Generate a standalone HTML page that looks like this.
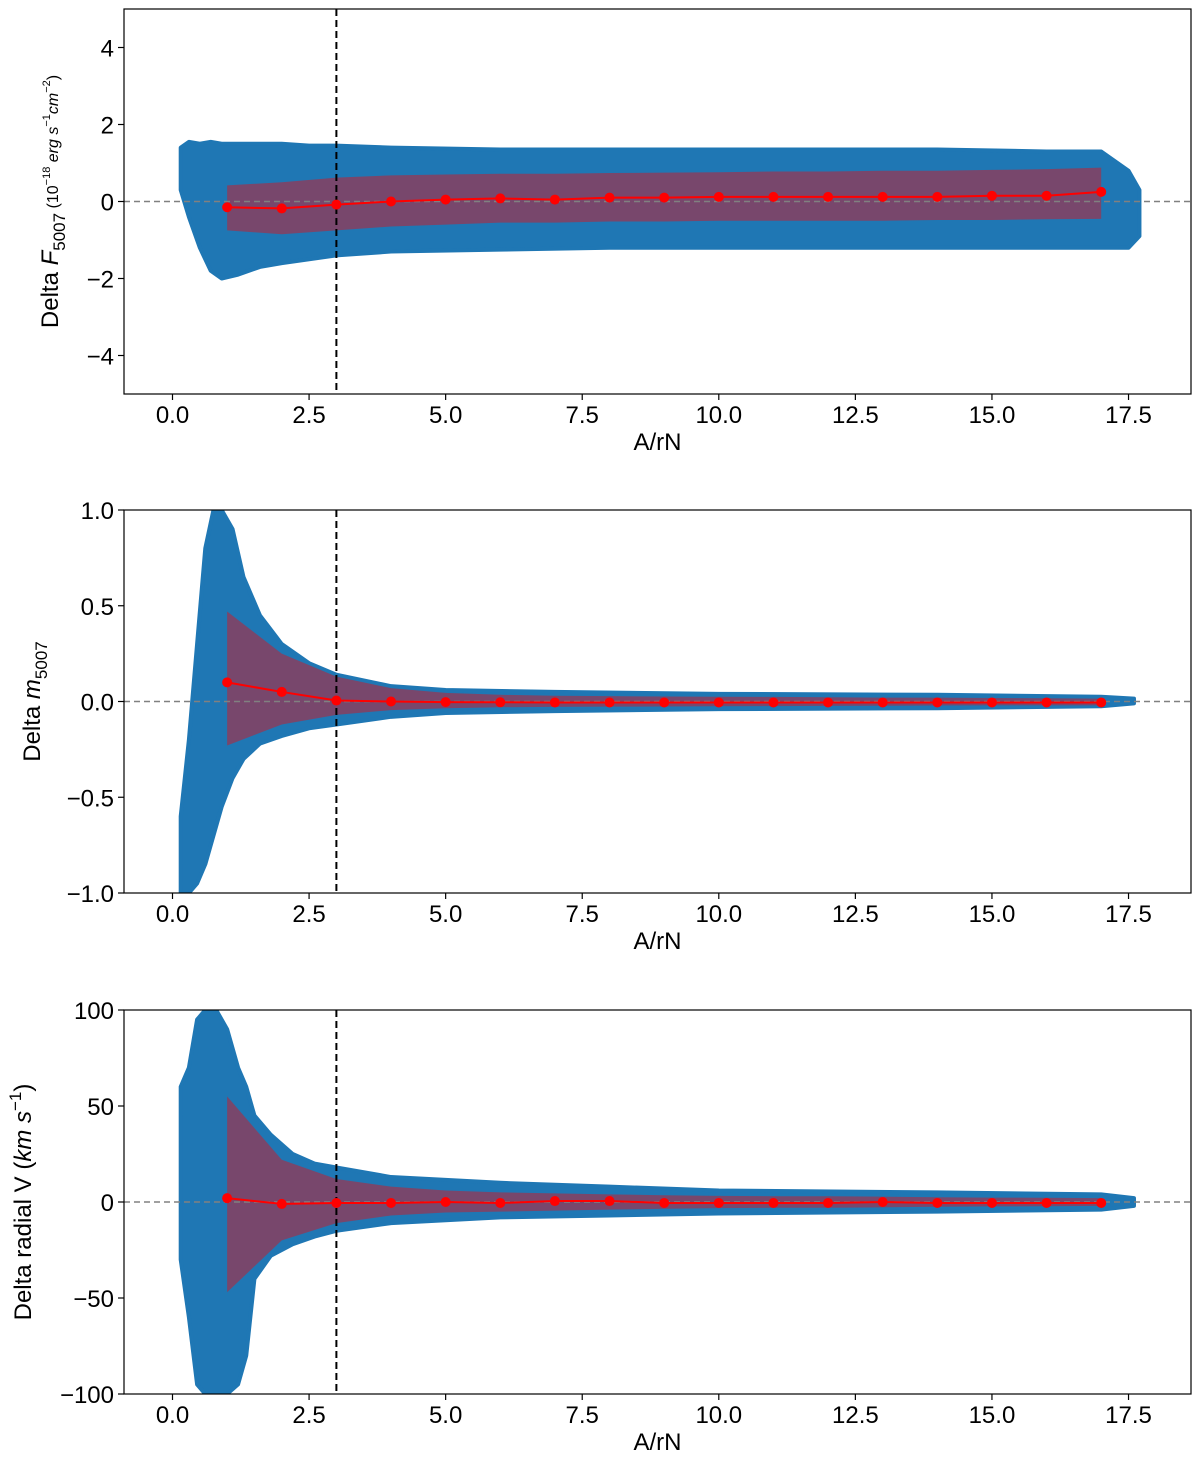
<!DOCTYPE html>
<html><head><meta charset="utf-8"><style>
html,body{margin:0;padding:0;background:#fff;}
svg{display:block;font-family:"Liberation Sans","DejaVu Sans",sans-serif;}
</style></head><body>
<svg id="fig" width="1200" height="1466" viewBox="0 0 1200 1466" xmlns="http://www.w3.org/2000/svg"></svg>
<script>
// ---- shared x ----
const xTicks = [0.0, 2.5, 5.0, 7.5, 10.0, 12.5, 15.0, 17.5];
const binX = [1,2,3,4,5,6,7,8,9,10,11,12,13,14,15,16,17];
const cutX = 3;
// ---- panel 1: flux ----
const p1Ticks = [4,2,0,-2,-4];
const p1Mean = [-0.15,-0.18,-0.08,0,0.05,0.08,0.05,0.1,0.1,0.12,0.12,0.12,0.12,0.12,0.15,0.15,0.25];
const p1Hi = [0.42,0.5,0.62,0.68,0.7,0.72,0.72,0.74,0.75,0.76,0.78,0.78,0.8,0.8,0.82,0.84,0.88];
const p1Lo = [-0.75,-0.85,-0.75,-0.65,-0.6,-0.55,-0.55,-0.52,-0.52,-0.5,-0.5,-0.5,-0.5,-0.48,-0.48,-0.46,-0.45];
const p1EnvX = [0.15,0.3,0.5,0.7,0.9,1.2,1.6,2,2.5,3,4,6,8,10,12,14,16,17,17.5,17.7];
const p1EnvHi = [1.4,1.55,1.5,1.55,1.5,1.5,1.5,1.5,1.45,1.45,1.4,1.35,1.35,1.35,1.35,1.35,1.3,1.3,0.8,0.3];
const p1EnvLo = [0.3,-0.4,-1.2,-1.8,-2.0,-1.9,-1.7,-1.6,-1.5,-1.4,-1.3,-1.25,-1.2,-1.2,-1.2,-1.2,-1.2,-1.2,-1.2,-0.9];
// ---- panel 2: magnitude ----
const p2Ticks = [1.0,0.5,0.0,-0.5,-1.0];
const p2Mean = [0.1,0.05,0.005,0,-0.003,-0.004,-0.005,-0.005,-0.005,-0.005,-0.005,-0.005,-0.005,-0.005,-0.005,-0.005,-0.005];
const p2Hi = [0.47,0.25,0.13,0.07,0.045,0.035,0.03,0.028,0.026,0.025,0.024,0.022,0.02,0.02,0.018,0.017,0.015];
const p2Lo = [-0.23,-0.12,-0.07,-0.045,-0.035,-0.03,-0.028,-0.027,-0.026,-0.025,-0.024,-0.023,-0.022,-0.021,-0.02,-0.02,-0.02];
const p2EnvX = [0.15,0.3,0.45,0.6,0.75,0.9,1.1,1.3,1.6,2,2.5,3,4,5,7,10,14,17,17.6];
const p2EnvHi = [-0.6,-0.2,0.3,0.8,1.0,1.0,0.9,0.65,0.45,0.3,0.2,0.14,0.08,0.06,0.05,0.04,0.035,0.025,0.015];
const p2EnvLo = [-1.0,-1.0,-0.95,-0.85,-0.7,-0.55,-0.4,-0.3,-0.22,-0.18,-0.14,-0.12,-0.08,-0.06,-0.05,-0.04,-0.035,-0.025,-0.01];
// ---- panel 3: velocity ----
const p3Ticks = [100,50,0,-50,-100];
const p3Mean = [2,-1,-0.5,-0.5,0,-0.5,0.5,0.5,-0.5,-0.5,-0.5,-0.5,0,-0.5,-0.5,-0.5,-0.5];
const p3Hi = [55,22,12,8,6,5,4.5,4,3.5,3.2,3,3,2.8,2.5,2.3,2.2,2];
const p3Lo = [-47,-20,-11,-7,-5.5,-5,-4.5,-4,-3.5,-3.2,-3,-3,-2.8,-2.5,-2.3,-2.2,-2];
const p3EnvX = [0.15,0.3,0.45,0.6,0.8,1.0,1.2,1.35,1.5,1.8,2.2,2.6,3,4,6,8,10,14,17,17.6];
const p3EnvHi = [60,70,95,100,100,90,70,60,45,35,25,20,18,13,10,8,6,5,4,2];
const p3EnvLo = [-30,-60,-95,-100,-100,-100,-95,-80,-40,-28,-22,-18,-15,-11,-8,-7,-6,-5,-4,-2];

const NS = "http://www.w3.org/2000/svg";
const svg = document.getElementById('fig');
function mk(tag, attrs, parent){ const e=document.createElementNS(NS,tag); for(const k in attrs) e.setAttribute(k,attrs[k]); (parent||svg).appendChild(e); return e; }

const L=124, R=1191;
function xs(v){ return 172.5 + v*54.63; }

function panel(id, top, bot, ymin, ymax, ticks, tickFmt, envX, envHi, envLo, hi, lo, mean, labelHTML, labelX){
  const g = mk('g',{});
  
  
  const ys = v => bot - (v-ymin)/(ymax-ymin)*(bot-top);
  const clipId = id+'-clip';
  const cp = mk('clipPath',{id:clipId},g); mk('rect',{x:L,y:top,width:R-L,height:bot-top},cp);
  const inner = mk('g',{'clip-path':'url(#'+clipId+')'},g);
  let pts = envX.map((x,i)=>xs(x)+','+ys(envHi[i]));
  for(let i=envX.length-1;i>=0;i--) pts.push(xs(envX[i])+','+ys(envLo[i]));
  const env = mk('polygon',{points:pts.join(' '),fill:'#1f77b4',stroke:'#1f77b4','stroke-width':4,'stroke-linejoin':'round'},inner);
  
  
  let bp = binX.map((x,i)=>xs(x)+','+ys(hi[i]));
  for(let i=binX.length-1;i>=0;i--) bp.push(xs(binX[i])+','+ys(lo[i]));
  const band = mk('polygon',{points:bp.join(' '),fill:'rgba(255,0,0,0.4)'},inner);
  
  
  mk('line',{x1:L,x2:R,y1:ys(0),y2:ys(0),stroke:'#808080','stroke-width':1.5,'stroke-dasharray':'6,4'},inner);
  const vl = mk('line',{x1:xs(cutX),x2:xs(cutX),y1:top,y2:bot,stroke:'#000','stroke-width':2,'stroke-dasharray':'7,4'},inner);
  
  
  const ml = mk('polyline',{points:binX.map((x,i)=>xs(x)+','+ys(mean[i])).join(' '),fill:'none',stroke:'#ff0000','stroke-width':2},inner);
  
  
  binX.forEach((x,i)=>{
    const c = mk('circle',{cx:xs(x),cy:ys(mean[i]),r:5,fill:'#ff0000'},inner);
    
    
  });
  mk('rect',{x:L,y:top,width:R-L,height:bot-top,fill:'none',stroke:'#000','stroke-width':1.2},g);
  xTicks.forEach(t=>{
    const x=xs(t);
    mk('line',{x1:x,x2:x,y1:bot,y2:bot+6,stroke:'#000','stroke-width':1.2},g);
    const tx = mk('text',{x:x,y:bot+29,'font-size':24,'text-anchor':'middle',fill:'#000'},g);
    tx.textContent = t.toFixed(1);
    
    
  });
  const xl = mk('text',{x:(L+R)/2,y:bot+56,'font-size':24,'text-anchor':'middle',fill:'#000'},g);
  xl.textContent='A/rN';
  
  
  ticks.forEach(t=>{
    const y=ys(t);
    mk('line',{x1:L-6,x2:L,y1:y,y2:y,stroke:'#000','stroke-width':1.2},g);
    const tx = mk('text',{x:L-10,y:y+9,'font-size':24,'text-anchor':'end',fill:'#000'},g);
    tx.textContent = tickFmt(t);
    
    
  });
  const yl = mk('text',{transform:'translate('+labelX+','+((top+bot)/2)+') rotate(-90)','font-size':24,'text-anchor':'middle',fill:'#000'},g);
  yl.innerHTML = labelHTML;
  
  
}
const minus = s => s.replace('-','\u2212');
panel('flux',9,394,-5,5,p1Ticks,t=>minus(String(t)),p1EnvX,p1EnvHi,p1EnvLo,p1Hi,p1Lo,p1Mean,
 'Delta <tspan font-style="italic">F</tspan><tspan font-size="17" dy="7">5007</tspan><tspan font-size="16" dy="-7">  (10</tspan><tspan font-size="11" dy="-8">−18</tspan><tspan font-size="16" font-style="italic" dy="8"> erg s</tspan><tspan font-size="11" dy="-8">−1</tspan><tspan font-size="16" font-style="italic" dy="8">cm</tspan><tspan font-size="11" dy="-8">−2</tspan><tspan font-size="16" dy="8">)</tspan>',58);
panel('mag',510,893,-1,1,p2Ticks,t=>minus(t.toFixed(1)),p2EnvX,p2EnvHi,p2EnvLo,p2Hi,p2Lo,p2Mean,
 'Delta <tspan font-style="italic">m</tspan><tspan font-size="17" dy="7">5007</tspan>',40);
panel('vel',1010,1394,-100,100,p3Ticks,t=>minus(String(t)),p3EnvX,p3EnvHi,p3EnvLo,p3Hi,p3Lo,p3Mean,
 'Delta radial V  (<tspan font-style="italic">km s</tspan><tspan font-size="17" dy="-10">−1</tspan><tspan dy="10">)</tspan>',31);
</script>
</body></html>
